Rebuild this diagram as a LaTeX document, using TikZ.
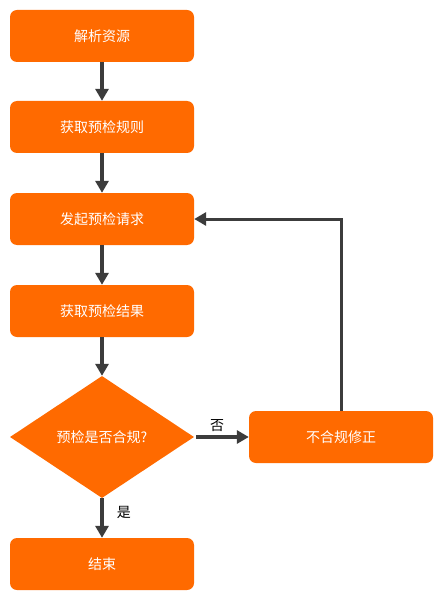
\documentclass[tikz,border=0pt]{standalone}
\usepackage{fontspec}
\setmainfont{Noto Sans CJK SC}
\usetikzlibrary{shapes.geometric,arrows.meta}
\definecolor{boxorange}{HTML}{FF6A00}
\definecolor{linegray}{HTML}{3C3C3C}
\tikzset{
  stepbox/.style={rectangle, rounded corners=7pt, fill=boxorange, text=white,
    minimum width=184pt, minimum height=52pt, inner sep=0pt, font=\fontsize{14pt}{16pt}\selectfont},
  decision/.style={diamond, fill=boxorange, text=white, aspect=1.5,
    minimum width=184pt, minimum height=122pt, inner sep=0pt, font=\fontsize{14pt}{16pt}\selectfont},
  flow/.style={draw=linegray, line width=3.5pt, -{Triangle[length=12pt,width=13pt]}},
  lbl/.style={text=black, font=\fontsize{14pt}{16pt}\selectfont, inner sep=1pt}
}
\begin{document}
\begin{tikzpicture}[x=1pt,y=-1pt]
\useasboundingbox[fill=white] (0,0) rectangle (441,604);
\node[stepbox] (s1) at (102,36) {解析资源};
\node[stepbox] (s2) at (102,127) {获取预检规则};
\node[stepbox] (s3) at (102,219) {发起预检请求};
\node[stepbox] (s4) at (102,311) {获取预检结果};
\node[decision] (d) at (102,437) {预检是否合规?};
\node[stepbox] (e) at (102,564) {结束};
\node[stepbox] (fix) at (341,437) {不合规修正};
\draw[flow] (s1) -- (s2);
\draw[flow] (s2) -- (s3);
\draw[flow] (s3) -- (s4);
\draw[flow] (s4) -- (d);
\draw[flow] (d) -- node[lbl, pos=0.35, right=12pt] {是} (e);
\draw[flow] ([xshift=2pt]d.east) -- node[lbl, pos=0.4, above=3pt] {否} (fix);
\draw[flow, line width=3pt] (fix.north) |- (s3.east);
\end{tikzpicture}
\end{document}
